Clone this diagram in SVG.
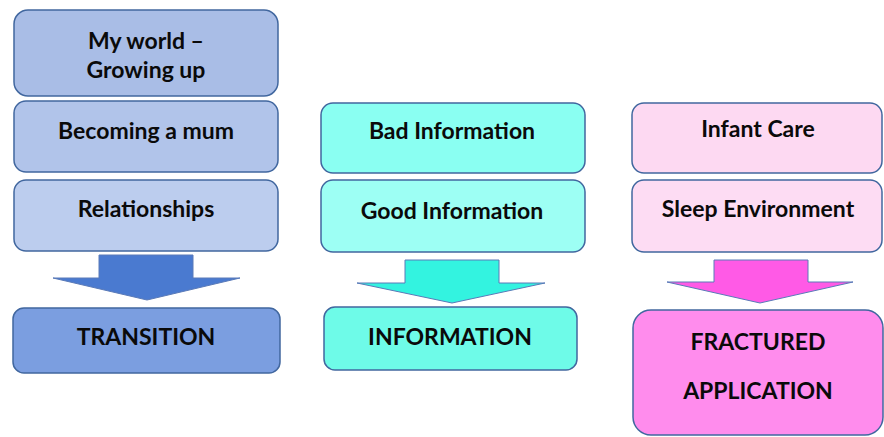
<svg xmlns="http://www.w3.org/2000/svg" width="884" height="437" viewBox="0 0 884 437">
<style>
.box{stroke:#41679f;stroke-width:1.5}
.arr{stroke:#5a7ab8;stroke-width:1}
text{font-family:Lato,"Open Sans","Liberation Sans",sans-serif;font-weight:bold;fill:#0a0a0a;text-anchor:middle}
.t{font-size:23px}
.b{font-size:23px}
</style>
<rect width="884" height="437" fill="#fff"/>
<g id="my-world"><rect class="box" x="14" y="10" width="264" height="86" rx="14" fill="#a9bde6"/><text class="t" x="146" y="49">My world –</text><text class="t" x="146" y="78">Growing up</text></g>
<g id="becoming-mum"><rect class="box" x="14" y="101" width="264" height="71" rx="12" fill="#b1c4ea"/><text class="t" x="146" y="139">Becoming a mum</text></g>
<g id="relationships"><rect class="box" x="14" y="180" width="264" height="71" rx="12" fill="#bccdee"/><text class="t" x="146" y="217">Relationships</text></g>
<g id="transition"><rect class="box" x="13" y="308" width="267" height="65" rx="11" fill="#7b9ee0"/><text class="b" x="146" y="345">TRANSITION</text></g>
<g id="bad-info"><rect class="box" x="321" y="103" width="264" height="70" rx="12" fill="#8afff2"/><text class="t" x="452" y="139">Bad Information</text></g>
<g id="good-info"><rect class="box" x="321" y="180" width="264" height="72" rx="12" fill="#9dfff4"/><text class="t" x="452" y="219">Good Information</text></g>
<g id="information"><rect class="box" x="324" y="307" width="253" height="63" rx="11" fill="#6efbe8"/><text class="b" x="450" y="345">INFORMATION</text></g>
<g id="infant-care"><rect class="box" x="632" y="103" width="250" height="70" rx="12" fill="#fdd9f2"/><text class="t" x="758" y="137">Infant Care</text></g>
<g id="sleep-env"><rect class="box" x="632" y="180" width="250" height="72" rx="12" fill="#fddcf3"/><text class="t" x="758" y="217">Sleep Environment</text></g>
<g id="fractured"><rect class="box" x="633" y="310" width="250" height="125" rx="18" fill="#ff8ced"/><text class="b" x="758" y="350">FRACTURED</text><text class="b" x="758" y="399">APPLICATION</text></g>
<g id="connectors">
<polygon class="arr" points="99,255 193,255 193,278 240,278 147,300 53,278 99,278" fill="#4a7ad0"/>
<polygon class="arr" points="405,260 499,260 499,283 545,283 452,303 357,283 405,283" fill="#33f3e0"/>
<polygon class="arr" points="714,260 808,260 808,282 853,282 760,303 667,282 714,282" fill="#ff5ae6"/>
</g>
</svg>
